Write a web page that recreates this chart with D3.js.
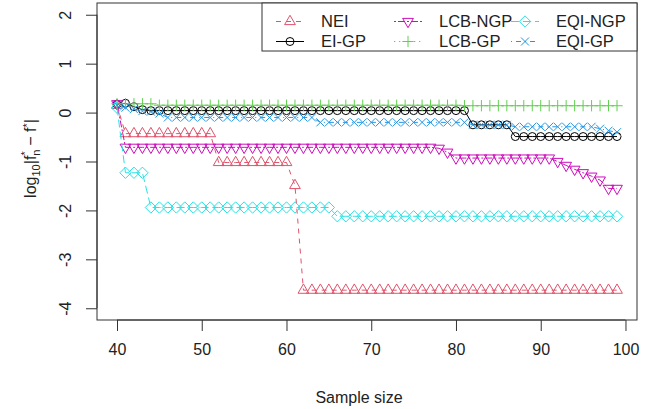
<!DOCTYPE html>
<html>
<head>
<meta charset="utf-8">
<script src="https://cdn.jsdelivr.net/npm/d3@7"></script>
<style>
  body { margin: 0; background: #fff; }
  text { font-family: "Liberation Sans", Arial, sans-serif; }
</style>
</head>
<body>
<script>
// sample sizes 40..99
let sampleSize = d3.range(40, 100);

let nei = [0.15, -0.43, -0.43, -0.43, -0.43, -0.43, -0.43, -0.43, -0.43, -0.43,
    -0.43, -0.43, -1.02, -1.02, -1.02, -1.02, -1.02, -1.02, -1.02, -1.02,
    -1.02, -1.49, -3.63, -3.63, -3.63, -3.63, -3.63, -3.63, -3.63, -3.63,
    -3.63, -3.63, -3.63, -3.63, -3.63, -3.63, -3.63, -3.63, -3.63, -3.63,
    -3.63, -3.63, -3.63, -3.63, -3.63, -3.63, -3.63, -3.63, -3.63, -3.63,
    -3.63, -3.63, -3.63, -3.63, -3.63, -3.63, -3.63, -3.63, -3.63, -3.63];
let eiGP = [0.17, 0.19, 0.12, 0.06, 0.04, 0.04, 0.04, 0.04, 0.04, 0.04,
    0.04, 0.04, 0.04, 0.04, 0.04, 0.04, 0.04, 0.04, 0.04, 0.04,
    0.04, 0.04, 0.04, 0.04, 0.04, 0.04, 0.04, 0.04, 0.04, 0.04,
    0.04, 0.04, 0.04, 0.04, 0.04, 0.04, 0.04, 0.04, 0.04, 0.04,
    0.04, 0.04, -0.25, -0.25, -0.25, -0.25, -0.25, -0.49, -0.49, -0.49,
    -0.49, -0.49, -0.49, -0.49, -0.49, -0.49, -0.49, -0.49, -0.49, -0.49];
let lcbNGP = [0.18, -0.71, -0.71, -0.71, -0.71, -0.71, -0.71, -0.71, -0.71, -0.71,
    -0.71, -0.71, -0.71, -0.71, -0.71, -0.71, -0.71, -0.71, -0.71, -0.71,
    -0.71, -0.71, -0.71, -0.71, -0.71, -0.71, -0.71, -0.71, -0.71, -0.71,
    -0.71, -0.71, -0.71, -0.71, -0.71, -0.71, -0.71, -0.71, -0.73, -0.81,
    -0.93, -0.93, -0.93, -0.93, -0.93, -0.93, -0.93, -0.93, -0.93, -0.93,
    -0.93, -0.93, -1.0, -1.08, -1.16, -1.23, -1.3, -1.38, -1.55, -1.55];
let lcbGP = [0.18, 0.18, 0.18, 0.18, 0.18, 0.15, 0.15, 0.15, 0.15, 0.15,
    0.15, 0.15, 0.15, 0.15, 0.15, 0.15, 0.15, 0.15, 0.15, 0.15,
    0.15, 0.15, 0.15, 0.15, 0.15, 0.15, 0.15, 0.15, 0.15, 0.15,
    0.15, 0.15, 0.15, 0.15, 0.15, 0.15, 0.15, 0.15, 0.15, 0.15,
    0.15, 0.14, 0.14, 0.14, 0.14, 0.14, 0.14, 0.14, 0.14, 0.14,
    0.14, 0.14, 0.14, 0.14, 0.14, 0.14, 0.14, 0.14, 0.14, 0.14];
let eqiNGP = [0.1, -1.23, -1.23, -1.23, -1.94, -1.94, -1.94, -1.94, -1.94, -1.94,
    -1.94, -1.94, -1.94, -1.94, -1.94, -1.94, -1.94, -1.94, -1.94, -1.94,
    -1.94, -1.94, -1.94, -1.94, -1.94, -1.94, -2.12, -2.12, -2.12, -2.12,
    -2.12, -2.12, -2.12, -2.12, -2.12, -2.12, -2.12, -2.12, -2.12, -2.12,
    -2.12, -2.12, -2.12, -2.12, -2.12, -2.12, -2.12, -2.12, -2.12, -2.12,
    -2.12, -2.12, -2.12, -2.12, -2.12, -2.12, -2.12, -2.12, -2.12, -2.12];
let eqiGP = [0.15, 0.1, 0.07, 0.03, 0.02, -0.02, -0.1, -0.1, -0.1, -0.1,
    -0.1, -0.1, -0.1, -0.1, -0.1, -0.1, -0.1, -0.1, -0.1, -0.1,
    -0.1, -0.1, -0.1, -0.1, -0.2, -0.2, -0.2, -0.2, -0.2, -0.2,
    -0.2, -0.2, -0.2, -0.2, -0.2, -0.2, -0.2, -0.2, -0.2, -0.2,
    -0.2, -0.2, -0.25, -0.25, -0.25, -0.25, -0.25, -0.29, -0.29, -0.29,
    -0.29, -0.29, -0.29, -0.29, -0.29, -0.29, -0.29, -0.33, -0.37, -0.4];

let seriesNames = ["NEI", "EI-GP", "LCB-NGP", "LCB-GP", "EQI-NGP", "EQI-GP"];
let seriesValues = [nei, eiGP, lcbNGP, lcbGP, eqiNGP, eqiGP];
let xTicks = [40, 50, 60, 70, 80, 90, 100];
let yTicks = [-4, -3, -2, -1, 0, 1, 2];
let yLimits = [-4, 2];

// R palette look
let colors = ["#DF536B", "#000000", "#CD0BBC", "#61D04F", "#28E2E5", "#2297E6"];
let dashes = ["5,5", null, "2,2,7,2", "1.3,3.7", "8,4", "1,4,5,4"];
let shapes = ["tri", "circle", "tridown", "plus", "diamond", "cross"];

let width = 657, height = 409;
let box = { left: 97, right: 637, top: 3, bottom: 320 };

let svg = d3.select("body").append("svg")
    .attr("width", width).attr("height", height);

// R-style 4% padding
let xr = d3.extent(sampleSize), xp = (xr[1] - xr[0]) * 0.04;
let yp = (yLimits[1] - yLimits[0]) * 0.04;
let xScale = d3.scaleLinear().domain([xr[0] - xp, xr[1] + xp]).range([box.left, box.right]);
let yScale = d3.scaleLinear().domain([yLimits[0] - yp, yLimits[1] + yp]).range([box.bottom, box.top]);

let R = 4;
function marker(g, shape, color) {
    if (shape == "circle") {
        g.append("circle").attr("r", R).attr("fill", "none").attr("stroke", color).attr("stroke-width", 1);
        return;
    }
    let p;
    if (shape == "tri" || shape == "tridown") {
        let r = 1.555 * R, xc = 1.347 * R, yc = 0.778 * R;
        let k = shape == "tri" ? 1 : -1;
        p = `M0,${-k * r}L${xc},${k * yc}L${-xc},${k * yc}Z`;
    } else if (shape == "plus") {
        let c = Math.SQRT2 * R;
        p = `M${-c},0H${c}M0,${-c}V${c}`;
    } else if (shape == "diamond") {
        let c = Math.SQRT2 * R;
        p = `M0,${-c}L${c},0L0,${c}L${-c},0Z`;
    } else if (shape == "cross") {
        p = `M${-R},${-R}L${R},${R}M${-R},${R}L${R},${-R}`;
    }
    g.append("path").attr("d", p).attr("fill", "none").attr("stroke", color).attr("stroke-width", 1);
}

// series
let line = d3.line().x((d) => xScale(d[0])).y((d) => yScale(d[1]));
seriesValues.forEach((vals, i) => {
    let pts = sampleSize.map((x, j) => [x, vals[j]]);
    let g = svg.append("g");
    g.append("path").datum(pts)
        .attr("d", line)
        .attr("fill", "none")
        .attr("stroke", colors[i])
        .attr("stroke-width", 1)
        .attr("stroke-dasharray", dashes[i]);
    g.selectAll("g.pt").data(pts).enter().append("g")
        .attr("class", "pt")
        .attr("transform", (d) => "translate(" + xScale(d[0]) + "," + yScale(d[1]) + ")")
        .each(function () { marker(d3.select(this), shapes[i], colors[i]); });
});

// box
svg.append("rect")
    .attr("x", box.left).attr("y", box.top)
    .attr("width", box.right - box.left).attr("height", box.bottom - box.top)
    .attr("fill", "none").attr("stroke", "#333").attr("stroke-width", 1);

// axes
let xAxis = d3.axisBottom(xScale).tickValues(xTicks).tickSize(11).tickPadding(13);
let yAxis = d3.axisLeft(yScale).tickValues(yTicks).tickSize(11).tickFormat((d) => String(d));

let gx = svg.append("g").attr("transform", "translate(0," + box.bottom + ")").call(xAxis);
gx.selectAll("text").attr("font-size", 16).attr("fill", "#222").attr("font-family", "Liberation Sans");
gx.select(".domain").attr("d", "M" + xScale(40) + ",0H" + xScale(100)).attr("stroke", "#333");
gx.selectAll("line").attr("stroke", "#333");

let gy = svg.append("g").attr("transform", "translate(" + box.left + ",0)").call(yAxis);
gy.select(".domain").attr("d", "M0," + yScale(-4) + "V" + yScale(2)).attr("stroke", "#333");
gy.selectAll("line").attr("stroke", "#333");
gy.selectAll("text")
    .attr("font-size", 16).attr("fill", "#222").attr("font-family", "Liberation Sans")
    .attr("x", null).attr("dy", null)
    .attr("text-anchor", "middle")
    .attr("transform", "translate(-26,0) rotate(-90)")
    .attr("y", 0);

// axis titles
svg.append("text")
    .attr("x", (box.left + box.right) / 2 - 8).attr("y", 403)
    .attr("text-anchor", "middle").attr("font-size", 16).attr("fill", "#222")
    .text("Sample size");

let yl = svg.append("text")
    .attr("transform", "translate(36," + ((box.top + box.bottom) / 2 - 3) + ") rotate(-90)")
    .attr("text-anchor", "middle").attr("font-size", 16).attr("fill", "#222");
yl.append("tspan").text("log");
yl.append("tspan").attr("font-size", 11).attr("dy", 4).text("10");
yl.append("tspan").attr("dy", -4).text("|f");
yl.append("tspan").attr("font-size", 11).attr("dy", 4).text("n");
yl.append("tspan").attr("font-size", 11).attr("dx", -6).attr("dy", -11).text("*");
yl.append("tspan").attr("dx", 1).attr("dy", 7).text(" \u2212 f");
yl.append("tspan").attr("font-size", 11).attr("dy", -5).text("*");
yl.append("tspan").attr("dy", 5).text("|");

// legend
let leg = { left: 262, top: box.top, bottom: 51, right: box.right };
svg.append("rect")
    .attr("x", leg.left).attr("y", leg.top)
    .attr("width", leg.right - leg.left).attr("height", leg.bottom - leg.top)
    .attr("fill", "#fff").attr("stroke", "#333");
let colX = [290, 408, 525], rowY = [21.5, 41.5];
seriesNames.forEach((name, i) => {
    let cx = colX[Math.floor(i / 2)], cy = rowY[i % 2];
    let g = svg.append("g").attr("transform", "translate(" + cx + "," + cy + ")");
    g.append("line").attr("x1", -14).attr("x2", 14)
        .attr("stroke", colors[i]).attr("stroke-dasharray", dashes[i]);
    marker(g.append("g"), shapes[i], colors[i]);
    g.append("text").attr("x", 31).attr("y", 5.5)
        .attr("font-size", 16.5).attr("fill", "#222").text(name);
});
</script>
</body>
</html>
